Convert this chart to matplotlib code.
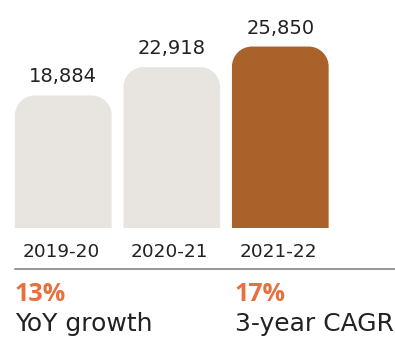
import matplotlib

matplotlib.use("Agg")
import matplotlib.pyplot as plt
from matplotlib.lines import Line2D
from matplotlib.patches import PathPatch
from matplotlib.path import Path

years = ["2019-20", "2020-21", "2021-22"]
values = [18884, 22918, 25850]
bar_colors = ["#E8E5E0", "#E8E5E0", "#A8622A"]
stat_values = ["13%", "17%"]
stat_labels = ["YoY growth", "3-year CAGR"]

W, H, DPI = 395, 337, 100
TEXT = "#222222"
ORANGE = "#E8703F"
FONT = "DejaVu Sans"
BOLD_FONT = "Open Sans"

fig = plt.figure(figsize=(W / DPI, H / DPI), dpi=DPI)
base_px = 109
ax = fig.add_axes([0, base_px / H, 1, (H - base_px) / H])
ax.set_xlim(-0.583, 3.057)
ax.set_ylim(0, 32480)
ax.axis("off")


def rounded_bar(ax, x, h, w, r_px, color):
    # top corners rounded by r_px pixels, bottom square
    px_x = ax.bbox.width / (ax.get_xlim()[1] - ax.get_xlim()[0])
    px_y = ax.bbox.height / (ax.get_ylim()[1] - ax.get_ylim()[0])
    rx, ry = r_px / px_x, r_px / px_y
    x0, x1 = x - w / 2, x + w / 2
    k = 0.5523
    verts = [
        (x0, 0), (x0, h - ry),
        (x0, h - ry + k * ry), (x0 + rx - k * rx, h), (x0 + rx, h),
        (x1 - rx, h),
        (x1 - rx + k * rx, h), (x1, h - ry + k * ry), (x1, h - ry),
        (x1, 0), (x0, 0),
    ]
    codes = [Path.MOVETO, Path.LINETO,
             Path.CURVE4, Path.CURVE4, Path.CURVE4,
             Path.LINETO,
             Path.CURVE4, Path.CURVE4, Path.CURVE4,
             Path.LINETO, Path.CLOSEPOLY]
    ax.add_patch(PathPatch(Path(verts, codes), facecolor=color, edgecolor="none"))


xs = list(range(len(years)))
for x, v, c, yr in zip(xs, values, bar_colors, years):
    rounded_bar(ax, x, v, 0.891, 20, c)
    ax.annotate(f"{v:,}", (x, v), xytext=(0, 13), textcoords="offset pixels",
                ha="center", va="baseline", fontsize=14, color=TEXT, family=FONT)
    ax.text(x - 0.02, (80 - base_px) / (H - base_px), yr, transform=ax.get_xaxis_transform(),
            ha="center", va="baseline", fontsize=13.3, color=TEXT, family=FONT)

fig.add_artist(Line2D([15 / W, 1], [68 / H, 68 / H], color="#7a7a7a", lw=1.1))

for sx, sv, sl in zip([15, 235], stat_values, stat_labels):
    fig.text(sx / W, 36 / H, sv, ha="left", va="baseline", fontsize=18,
             fontweight="bold", color=ORANGE, family=BOLD_FONT)
    fig.text(sx / W, 6 / H, sl, ha="left", va="baseline", fontsize=18,
             color=TEXT, family=FONT)

fig.savefig("out.png", dpi=DPI)
